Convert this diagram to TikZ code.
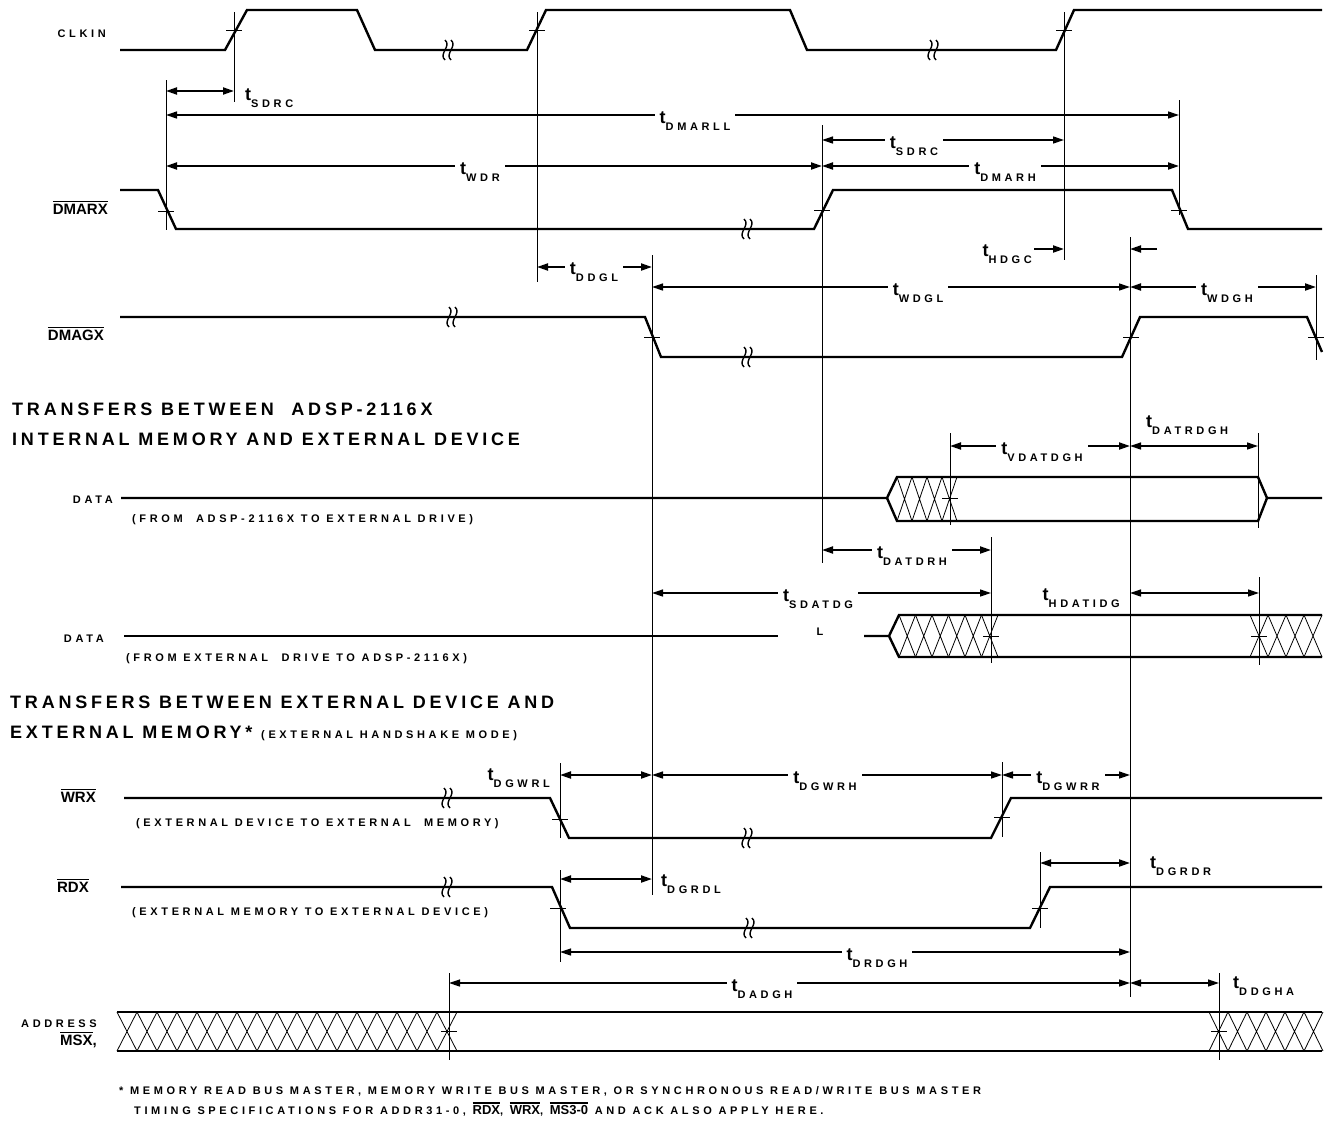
\documentclass[tikz,border=0pt]{standalone}
\usepackage{fontspec}
\setmainfont{Liberation Sans}
\newfontfamily\sigfont{Liberation Sans}
\newfontfamily\widefont[LetterSpace=33]{Liberation Sans}
\newfontfamily\headfont[LetterSpace=21]{Liberation Sans}
\usepackage{tikz}
\usetikzlibrary{arrows.meta}
\newcommand{\wtxt}{\widefont\bfseries\fontsize{11}{13}\selectfont}
\newcommand{\htxt}{\headfont\bfseries\fontsize{18}{20}\selectfont}
\newcommand{\sgl}{\sigfont\bfseries\fontsize{15}{17}\selectfont}
\newcommand{\ovl}[1]{\vbox{\hrule height 1.8pt\kern 1.2pt\hbox{#1}}}
\newcommand{\tm}[1]{{\sigfont\bfseries\fontsize{18}{18}\selectfont t}\raisebox{-7.5pt}{\wtxt #1}}
\newcommand{\edgetick}[2]{\draw[refline] (#1,#2) ++(-8,0) -- ++(16,0);}
\newcommand{\xhatch}[5]{\foreach \k in {1,...,#2}{%
  \draw[hatch] ({#1+(\k-1)*#3},#4) -- ({#1+\k*#3},#5) ({#1+(\k-1)*#3},#5) -- ({#1+\k*#3},#4);}}
\tikzstyle{sig}=[line width=2.4pt, line join=miter]
\tikzstyle{refline}=[line width=0.9pt]
\tikzstyle{hatch}=[line width=0.8pt]
\tikzstyle{dim}=[line width=1.3pt, <->]
\tikzstyle{dimthick}=[dim, line width=2pt]
\tikzstyle{tlabel}=[fill=white, inner xsep=5pt, inner ysep=1pt, anchor=base]
\tikzstyle{siglabel}=[inner sep=0pt, anchor=base east, font=\sgl]
\tikzstyle{note}=[inner sep=0pt, anchor=base west, font=\wtxt]
\tikzset{>={Triangle[length=11pt,width=7pt]},
  brk/.pic={
    \draw[line width=1.4pt] (-3,-10) .. controls (4,-4) and (-10,4) .. (-3,10);
    \draw[line width=1.4pt] (3,-10) .. controls (10,-4) and (-4,4) .. (3,10);}}

\begin{document}
\begin{tikzpicture}[x=1pt,y=-1pt]
    \useasboundingbox (0,0) rectangle (1336,1122);

    % reference lines
    \draw[refline] (234,12) -- (234,102);
    \draw[refline] (537,12) -- (537,282);
    \draw[refline] (1064,12) -- (1064,260);
    \draw[refline] (166,80) -- (166,230);
    \draw[refline] (822,125) -- (822,563);
    \draw[refline] (1179,100) -- (1179,215);
    \draw[refline] (652,255) -- (652,895);
    \draw[refline] (1130,237) -- (1130,997);
    \draw[refline] (1316,275) -- (1316,360);
    \draw[refline] (950,433) -- (950,525);
    \draw[refline] (1258,433) -- (1258,528);
    \draw[refline] (991,537) -- (991,663);
    \draw[refline] (1259,577) -- (1259,665);
    \draw[refline] (560,763) -- (560,838);
    \draw[refline] (1002,762) -- (1002,837);
    \draw[refline] (560,870) -- (560,962);
    \draw[refline] (1040,852) -- (1040,928);
    \draw[refline] (449,973) -- (449,1060);
    \draw[refline] (1219,973) -- (1219,1060);

    % CLKIN
    \node[siglabel, font=\wtxt] (clkin) at (106,37) {CLKIN};
    \draw[sig] (120,50) -- (225,50) -- (247,10) -- (357,10) -- (375,50) -- (527,50)
        -- (546,10) -- (790,10) -- (807,50) -- (1056,50) -- (1074,10) -- (1322,10);
    \pic at (448,50) {brk};
    \pic at (933,50) {brk};
    \edgetick{234}{30} \edgetick{537}{30} \edgetick{1064}{30}

    % DMARX
    \node[siglabel] (dmarx) at (108,214) {\ovl{DMARX}};
    \draw[sig] (120,190) -- (158,190) -- (176,229) -- (814,229) -- (833,190)
        -- (1172,190) -- (1188,229) -- (1322,229);
    \pic at (747,229) {brk};
    \edgetick{166}{211} \edgetick{822}{210} \edgetick{1179}{210}

    % DMAGX
    \node[siglabel] (dmagx) at (104,340) {\ovl{DMAGX}};
    \draw[sig] (120,317) -- (645,317) -- (661,357) -- (1122,357) -- (1140,317)
        -- (1307,317) -- (1322,352);
    \pic at (452,317) {brk};
    \pic at (747,357) {brk};
    \edgetick{652}{337} \edgetick{1131}{337} \edgetick{1316}{337}

    % section titles
    \node[note, font=\htxt] (head1) at (12,415) {TRANSFERS BETWEEN \ ADSP-2116X};
    \node[note, font=\htxt] (head2) at (12,445) {INTERNAL MEMORY AND EXTERNAL DEVICE};
    \node[note, font=\htxt] (head3) at (10,708) {TRANSFERS BETWEEN EXTERNAL DEVICE AND};
    \node[note, font=\htxt] (head4) at (10,738) {EXTERNAL MEMORY* {\wtxt(EXTERNAL HANDSHAKE MODE)}};

    % DATA out
    \node[siglabel, font=\wtxt] (dataout) at (113,503) {DATA};
    \node[note] (dataoutsub) at (132,522) {(FROM \ ADSP-2116X TO EXTERNAL DRIVE)};
    \draw[sig] (121,498) -- (887,498) -- (897,477) -- (1258,477) -- (1267,498) -- (1322,498);
    \draw[sig] (887,498) -- (897,521) -- (1258,521) -- (1267,498);
    \xhatch{897}{4}{15}{477}{521}
    \edgetick{950}{498}

    % DATA in
    \node[siglabel, font=\wtxt] (datain) at (104,642) {DATA};
    \node[note] (datainsub) at (126,661) {(FROM EXTERNAL \ DRIVE TO ADSP-2116X)};
    \draw[sig] (124,636) -- (778,636);
    \node[inner sep=0pt, font=\wtxt] (ltail) at (820,632) {L};
    \draw[sig] (864,636) -- (889,636) -- (899,615) -- (1322,615);
    \draw[sig] (889,636) -- (899,657) -- (1322,657);
    \xhatch{899}{6}{16.5}{615}{657}
    \xhatch{1250}{4}{18}{615}{657}
    \edgetick{991}{636} \edgetick{1259}{636}

    % WRX
    \node[siglabel] (wrx) at (96,802) {\ovl{WRX}};
    \node[note] (wrxsub) at (136,826) {(EXTERNAL DEVICE TO EXTERNAL \ MEMORY)};
    \draw[sig] (124,798) -- (550,798) -- (569,838) -- (991,838) -- (1011,798) -- (1322,798);
    \pic at (447,798) {brk};
    \pic at (747,838) {brk};
    \edgetick{560}{819} \edgetick{1002}{817}

    % RDX
    \node[siglabel] (rdx) at (89,892) {\ovl{RDX}};
    \node[note] (rdxsub) at (132,915) {(EXTERNAL MEMORY TO EXTERNAL DEVICE)};
    \draw[sig] (121,887) -- (552,887) -- (570,928) -- (1030,928) -- (1050,887) -- (1322,887);
    \pic at (447,887) {brk};
    \pic at (749,928) {brk};
    \edgetick{558}{908} \edgetick{1040}{908}

    % ADDRESS
    \node[siglabel, font=\wtxt] (addr) at (97,1027) {ADDRESS};
    \node[siglabel] (msx) at (97,1045) {\ovl{MSX},};
    \draw[sig] (117,1012) -- (1322,1012);
    \draw[sig] (117,1051) -- (1322,1051);
    \xhatch{117}{17}{20}{1012}{1051}
    \xhatch{1209}{6}{19}{1012}{1051}
    \edgetick{449}{1031} \edgetick{1219}{1031}

    % timing arrows
    \draw[dimthick] (166,91) -- (234,91);
    \node[inner sep=0pt, anchor=base west] (sdrca) at (245,100) {\tm{SDRC}};
    \draw[dim] (166,115) -- (1179,115);
    \node[tlabel] (dmarll) at (695,123) {\tm{DMARLL}};
    \draw[dimthick] (166,166) -- (822,166);
    \node[tlabel] (wdr) at (480,174) {\tm{WDR}};
    \draw[dim] (822,140) -- (1064,140);
    \node[tlabel] (sdrcb) at (914,148) {\tm{SDRC}};
    \draw[dimthick] (822,166) -- (1179,166);
    \node[tlabel] (dmarh) at (1005,174) {\tm{DMARH}};
    \draw[dimthick, -{>}] (1034,249) -- (1064,249);
    \node[inner sep=0pt, anchor=base east] (hdgc) at (1032,256) {\tm{HDGC}};
    \draw[dimthick, -{>}] (1157,249) -- (1130,249);
    \draw[dimthick] (537,267) -- (652,267);
    \node[tlabel] (ddgl) at (594,274) {\tm{DDGL}};
    \draw[dim] (652,287) -- (1130,287);
    \node[tlabel] (wdgl) at (918,295) {\tm{WDGL}};
    \draw[dimthick] (1130,287) -- (1316,287);
    \node[tlabel] (wdgh) at (1227,295) {\tm{WDGH}};
    \draw[dimthick] (950,446) -- (1130,446);
    \node[tlabel] (vdatdgh) at (1042,454) {\tm{VDATDGH}};
    \draw[dim] (1130,446) -- (1258,446);
    \node[inner sep=0pt, anchor=base west] (datrdgh) at (1146,427) {\tm{DATRDGH}};
    \draw[dimthick] (822,550) -- (991,550);
    \node[tlabel] (datdrh) at (912,558) {\tm{DATDRH}};
    \draw[dim] (652,593) -- (991,593);
    \node[tlabel] (sdatdg) at (818,601) {\tm{SDATDG}};
    \draw[dim] (1130,593) -- (1259,593);
    \node[inner sep=0pt, anchor=base east] (hdatidg) at (1120,600) {\tm{HDATIDG}};
    \draw[dimthick] (560,775) -- (652,775);
    \node[inner sep=0pt, anchor=base east] (dgwrl) at (550,780) {\tm{DGWRL}};
    \draw[dim] (652,775) -- (1002,775);
    \node[tlabel] (dgwrh) at (825,783) {\tm{DGWRH}};
    \draw[dim] (1002,775) -- (1130,775);
    \node[tlabel] (dgwrr) at (1068,783) {\tm{DGWRR}};
    \draw[dimthick] (560,879) -- (652,879);
    \node[inner sep=0pt, anchor=base west] (dgrdl) at (661,886) {\tm{DGRDL}};
    \draw[dimthick] (1040,863) -- (1130,863);
    \node[inner sep=0pt, anchor=base west] (dgrdr) at (1150,868) {\tm{DGRDR}};
    \draw[dim] (560,952) -- (1130,952);
    \node[tlabel] (drdgh) at (877,960) {\tm{DRDGH}};
    \draw[dim] (449,983) -- (1130,983);
    \node[tlabel] (dadgh) at (762,991) {\tm{DADGH}};
    \draw[dim] (1130,983) -- (1219,983);
    \node[inner sep=0pt, anchor=base west] (ddgha) at (1233,988) {\tm{DDGHA}};

    % footnote
    \node[note] (foot1) at (119,1094) {* MEMORY READ BUS MASTER, MEMORY WRITE BUS MASTER, OR SYNCHRONOUS READ/WRITE BUS MASTER};
    \node[note] (foot2) at (134,1114) {TIMING SPECIFICATIONS FOR ADDR31-0, {\sigfont\bfseries\fontsize{13}{13}\selectfont\ovl{RDX}}, {\sigfont\bfseries\fontsize{13}{13}\selectfont\ovl{WRX}}, {\sigfont\bfseries\fontsize{13}{13}\selectfont\ovl{MS3-0}} AND ACK ALSO APPLY HERE.};
\end{tikzpicture}
\end{document}
